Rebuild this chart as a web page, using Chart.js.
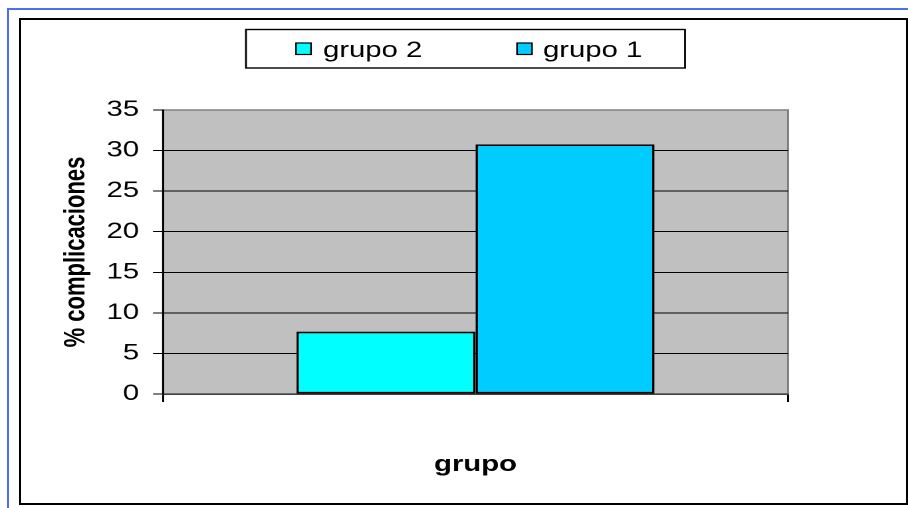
<!DOCTYPE html>
<html>
<head>
<meta charset="utf-8">
<script src="https://cdn.jsdelivr.net/npm/chart.js@4"></script>
<style>
  html, body { margin: 0; padding: 0; background: #fff; }
  #wrap { position: relative; width: 908px; height: 508px; overflow: hidden; }
  #chart { position: absolute; left: 0; top: 0; width: 908px; height: 508px; }
  .blueFrame { position: absolute; left: 7px; top: 8px; width: 1000px; height: 1000px;
    border-left: 2px solid #4a70ee; border-top: 2px solid #4a70ee; pointer-events: none; }
  .blackFrame { position: absolute; left: 19px; top: 18px; width: 889px; height: 487px;
    box-sizing: border-box; border: 2px solid #000; pointer-events: none; }
</style>
</head>
<body>
<div id="wrap">
  <canvas id="chart" width="683" height="508"></canvas>
  <div class="blueFrame"></div>
  <div class="blackFrame"></div>
</div>
<script>
// data
const categories = [""];
const seriesNames = ["grupo 2", "grupo 1"];
const seriesValues = [7.69, 30.77];
const seriesColors = ["#00FFFF", "#00CCFF"];
const yTicks = [0, 5, 10, 15, 20, 25, 30, 35];

// the original picture is stretched sideways, so the canvas is drawn narrower
// and widened by CSS
const W = 683;
const S = 908 / W;
const ix = x => x / S;   // picture x -> canvas x

const FONT = "'Liberation Sans', Arial, sans-serif";
const PAD_LEFT = 44;

// grey plot area with its frame
const plotBack = {
  id: "plotBack",
  beforeDraw(chart) {
    const { ctx, chartArea: a } = chart;
    ctx.save();
    ctx.fillStyle = "#C0C0C0";
    ctx.fillRect(a.left, a.top, a.right - a.left, a.bottom - a.top);
    ctx.strokeStyle = "#808080";
    ctx.lineWidth = 1.5;
    ctx.strokeRect(a.left, a.top, a.right - a.left, a.bottom - a.top);
    ctx.restore();
  }
};

// boxed legend above the plot
const boxLegend = {
  id: "boxLegend",
  afterDraw(chart) {
    const ctx = chart.ctx;
    ctx.save();
    ctx.fillStyle = "#fff";
    ctx.strokeStyle = "#000";
    ctx.lineWidth = 1.4;
    const bx = ix(246), by = 29.5, bw = ix(685) - ix(246), bh = 38.5;
    ctx.fillRect(bx, by, bw, bh);
    ctx.strokeRect(bx, by, bw, bh);

    const swatchX = [ix(296), ix(517)];
    const textX = [ix(323), ix(543)];
    chart.data.datasets.forEach((ds, i) => {
      ctx.fillStyle = ds.backgroundColor;
      ctx.fillRect(swatchX[i], 43, ix(15), 11.5);
      ctx.lineWidth = 1.2;
      ctx.strokeRect(swatchX[i], 43, ix(15), 11.5);
      ctx.fillStyle = "#000";
      ctx.font = "22px " + FONT;
      ctx.textBaseline = "alphabetic";
      ctx.textAlign = "left";
      ctx.fillText(ds.label, textX[i], 57);
    });
    ctx.restore();
  }
};

const canvas = document.getElementById("chart");

const chart = new Chart(canvas, {
  type: "bar",
  data: {
    labels: categories,
    datasets: seriesNames.map((name, i) => ({
      label: name,
      data: [seriesValues[i]],
      backgroundColor: seriesColors[i],
      borderColor: "#000",
      borderWidth: 1.8,
      borderSkipped: false,
      categoryPercentage: 358 / 625,
      barPercentage: 1.0
    }))
  },
  options: {
    responsive: false,
    animation: false,
    devicePixelRatio: 2,
    layout: {
      padding: { left: PAD_LEFT, right: W - ix(788), top: 110, bottom: 20 }
    },
    plugins: {
      legend: { display: false },
      tooltip: { enabled: false }
    },
    scales: {
      x: {
        afterFit(scale) { scale.height = 94; },
        grid: {
          drawOnChartArea: false,
          drawTicks: true,
          tickLength: 8,
          tickColor: "#000",
          lineWidth: 1.5
        },
        border: { color: "#404040", width: 1.5 },
        ticks: { color: "#000", font: { family: FONT, size: 22 } },
        title: {
          display: true,
          text: "grupo",
          color: "#000",
          font: { family: FONT, size: 22, weight: "bold" },
          padding: { top: 0, bottom: 10 }
        }
      },
      y: {
        min: 0,
        max: 35,
        afterFit(scale) { scale.width = ix(163) - PAD_LEFT; },
        afterBuildTicks(scale) { scale.ticks = yTicks.map(v => ({ value: v })); },
        grid: {
          color: c => (c.tick && c.tick.value === 35 ? "#808080" : "#000"),
          lineWidth: 1,
          tickLength: ix(163) - ix(153),
          tickColor: "#000"
        },
        border: { color: "#000", width: 1.5 },
        ticks: {
          color: "#000",
          padding: ix(153) - ix(139),
          font: { family: FONT, size: 22 }
        },
        title: {
          display: true,
          text: "% complicaciones",
          color: "#000",
          font: { family: FONT, size: 22, weight: "bold" },
          padding: { top: 0, bottom: 0 }
        }
      }
    }
  },
  plugins: [plotBack, boxLegend]
});

canvas.style.width = "908px";
canvas.style.height = "508px";
</script>
</body>
</html>
